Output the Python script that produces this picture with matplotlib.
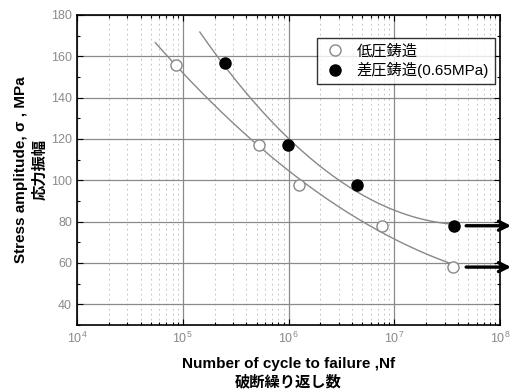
import numpy as np
from matplotlib import pyplot as plt
from matplotlib.ticker import LogLocator, MultipleLocator, NullFormatter

plt.rcParams["font.family"] = ["Liberation Sans", "Noto Sans CJK JP", "DejaVu Sans"]

# ================================================================
# Data
# ================================================================
low_n = [8.6e4, 5.3e5, 1.26e6, 7.7e6, 3.6e7]
low_s = [156, 117, 97.5, 78, 58]

diff_n = [2.5e5, 9.8e5, 4.4e6, 3.7e7]
diff_s = [156.5, 117, 97.5, 78]

low_label = "低圧鋳造"
diff_label = "差圧鋳造(0.65MPa)"

low_fit_range = (5.5e4, 3.6e7)
diff_fit_range = (1.45e5, 3.7e7)

# runouts (no failure)
runout_s = [78, 58]


# ================================================================
# Helpers
# ================================================================
def fit_curve(n, s, n_range, deg=2):
    logn = np.log10(n)
    coef = np.polyfit(logn, s, deg)
    xs = np.linspace(np.log10(n_range[0]), np.log10(n_range[1]), 200)
    return 10 ** xs, np.polyval(coef, xs)


# ================================================================
# Plot
# ================================================================
fig = plt.figure(figsize=(5.15, 3.92), dpi=100)
ax = fig.add_axes((0.1495, 0.171, 0.8215, 0.791))

ax.set_xscale("log")
ax.set_xlim(1e4, 1e8)
ax.set_ylim(30, 180)

ax.yaxis.set_major_locator(MultipleLocator(20))
ax.yaxis.set_minor_locator(MultipleLocator(10))
ax.xaxis.set_major_locator(LogLocator(base=10, numticks=10))
ax.xaxis.set_minor_locator(LogLocator(base=10, subs=np.arange(2, 10), numticks=20))
ax.xaxis.set_minor_formatter(NullFormatter())

ax.grid(True, which="major", axis="both", color="#8a8a8a", lw=0.9)
ax.grid(True, which="minor", axis="x", color="#b8b8b8", lw=0.6, ls=(0, (2, 4)))
ax.set_axisbelow(True)

ax.tick_params(which="both", direction="in", top=True, right=True,
               labelcolor="#8a8a8a", labelsize=9)
ax.tick_params(which="major", length=4, width=0.8)
ax.tick_params(which="minor", length=2.5, width=0.8)
ax.tick_params(axis="x", pad=4)
for side in ax.spines.values():
    side.set_linewidth(1.2)

# fitted curves
xl, yl = fit_curve(low_n, low_s, low_fit_range)
xd, yd = fit_curve(diff_n, diff_s, diff_fit_range)
ax.plot(xl, yl, color="#888888", lw=1.0, zorder=3)
ax.plot(xd, yd, color="#888888", lw=1.0, zorder=3)

ax.plot(low_n, low_s, "o", ms=8, mfc="white", mec="#888888", mew=1.0,
        ls="none", label=low_label, zorder=4)
ax.plot(diff_n, diff_s, "o", ms=8, mfc="black", mec="black",
        ls="none", label=diff_label, zorder=4)

# runout arrows
for s in runout_s:
    ax.annotate("", xy=(1.35e8, s), xytext=(4.5e7, s),
                arrowprops=dict(arrowstyle="->", lw=2.4, color="black",
                                mutation_scale=16),
                annotation_clip=False, zorder=5)

leg = ax.legend(loc="upper right", bbox_to_anchor=(0.988, 0.926),
                borderaxespad=0, fontsize=11, frameon=True, fancybox=False,
                edgecolor="black", handletextpad=0.6, borderpad=0.4,
                labelspacing=0.25, handlelength=1.6)
leg.get_frame().set_linewidth(1.0)

ax.set_xlabel("Number of cycle to failure ,Nf\n破断繰り返し数",
              fontsize=11, fontweight="bold", linespacing=1.35, labelpad=8)
ax.set_ylabel("Stress amplitude, σ , MPa\n応力振幅",
              fontsize=11, fontweight="bold", linespacing=1.45, labelpad=3)

fig.savefig("out.png", dpi=100)
